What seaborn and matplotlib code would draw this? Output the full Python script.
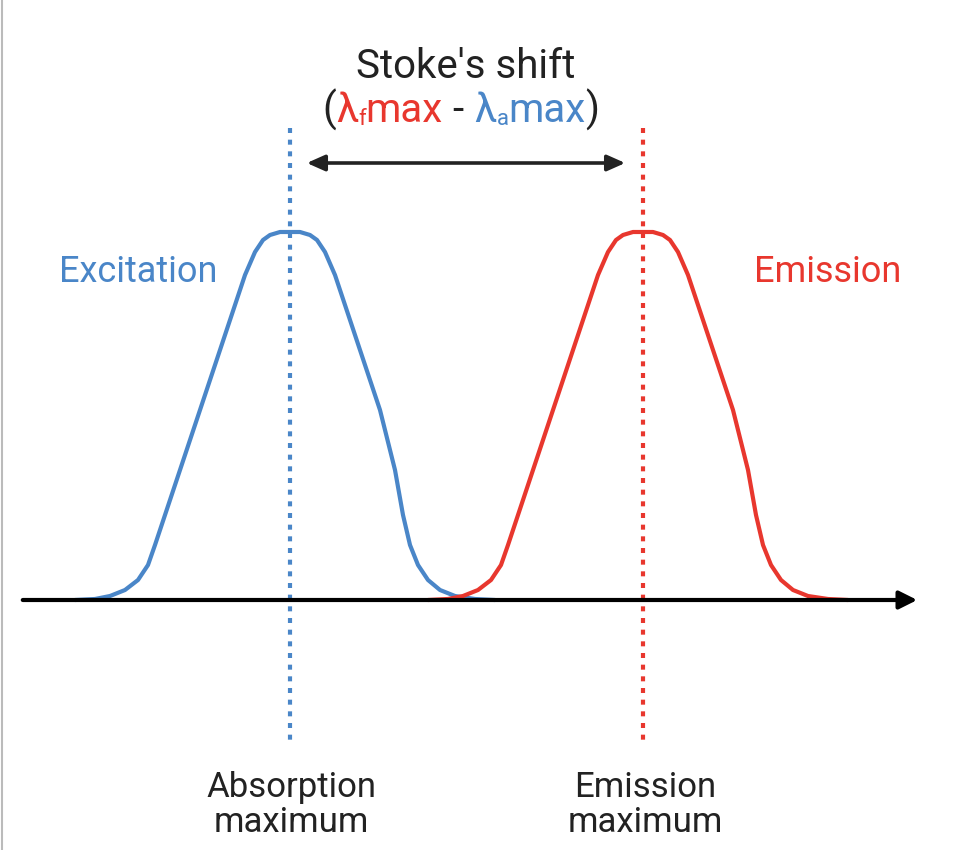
import matplotlib
matplotlib.use("Agg")
import matplotlib.pyplot as plt
import seaborn as sns
import pandas as pd

sns.set_theme(style="white")
plt.rcParams['font.family'] = ['Roboto', 'DejaVu Sans']

BLUE = "#4a86c8"
RED = "#e8372e"

exc_x = [75,95,110,125,138,148,155,165,180,200,225,245,255,263,270,280,290,300,310,317,325,335,355,380,395,403,410,418,428,440,455,475,495]
exc_y = [600,599,596,590,580,565,545,515,470,410,335,275,252,240,235,232,232,232,235,240,252,275,335,410,470,515,545,565,580,590,596,599,600]
em_x = [x + 353 for x in exc_x]
em_y = exc_y[:]

df = pd.concat([
    pd.DataFrame({"x": exc_x, "y": exc_y, "s": "Excitation"}),
    pd.DataFrame({"x": em_x, "y": em_y, "s": "Emission"}),
])

fig = plt.figure(figsize=(9.74, 8.5), dpi=100)
ax = fig.add_axes([0, 0, 1, 1])
ax.set_xlim(0, 974)
ax.set_ylim(850, 0)
ax.axis("off")

sns.lineplot(data=df, x="x", y="y", hue="s", palette={"Excitation": BLUE, "Emission": RED},
             sort=False, linewidth=3, legend=False, ax=ax)

ax.annotate("", xy=(920, 600), xytext=(20, 600),
            arrowprops=dict(arrowstyle="-|>,head_length=0.9,head_width=0.45", color="black", lw=3))
ax.plot([290, 290], [128, 740], color=BLUE, lw=3, ls=(0, (1.2, 1.6)))
ax.plot([643, 643], [128, 740], color=RED, lw=3, ls=(0, (1.2, 1.6)))
ax.annotate("", xy=(304, 163), xytext=(628, 163),
            arrowprops=dict(arrowstyle="<|-|>,head_length=0.9,head_width=0.4", color="#222222", lw=2.6))
ax.plot([2, 2], [0, 850], color="#bbbbbb", lw=1.5)

ax.text(466, 66, "Stoke's shift", ha="center", va="center", fontsize=29, color="#222222")

# second title line, pieces chained by measured widths
fs = 29
pieces = [("(", fs, "#222222", 0), ("λ", fs, RED, 0), ("f", 16, RED, 9), ("max", fs, RED, 0),
          (" - ", fs, "#222222", 0), ("λ", fs, BLUE, 0), ("a", 16, BLUE, 9), ("max", fs, BLUE, 0),
          (")", fs, "#222222", 0)]
fig.canvas.draw()
r = fig.canvas.get_renderer()
x = 322
inv = ax.transData.inverted()
for s, size, c, dy in pieces:
    t = ax.text(x, 110 + dy, s, ha="left", va="center", fontsize=size, color=c)
    bb = t.get_window_extent(renderer=r)
    x += bb.width
    if s == " - ":
        pass

ax.text(138, 272, "Excitation", ha="center", va="center", fontsize=26, color=BLUE)
ax.text(828, 272, "Emission", ha="center", va="center", fontsize=26, color=RED)
ax.text(291, 805, "Absorption\nmaximum", ha="center", va="center", fontsize=25,
        color="#222222", linespacing=1.1)
ax.text(645, 805, "Emission\nmaximum", ha="center", va="center", fontsize=25,
        color="#222222", linespacing=1.1)

fig.savefig("out.png", dpi=100)
